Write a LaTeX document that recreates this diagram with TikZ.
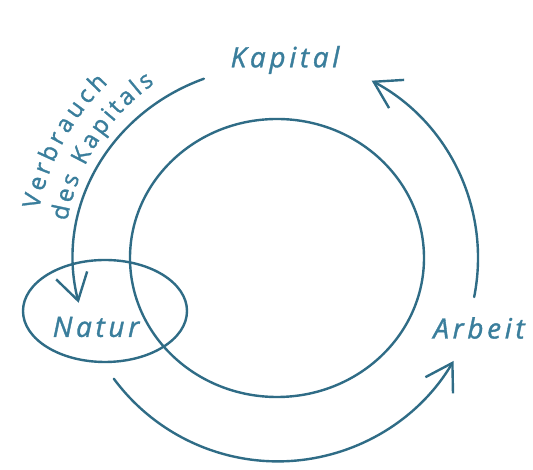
\documentclass[tikz,border=0pt]{standalone}
\usepackage{fontspec}
\setmainfont{Open Sans}
\newfontfamily\hand[LetterSpace=13.0,FakeBold=1.2]{Open Sans}
\newfontfamily\handarc[FakeBold=1.2]{Open Sans}
\usetikzlibrary{arrows.meta,decorations.text,shapes.geometric}
\definecolor{ink}{HTML}{2F6C86}
\definecolor{inktext}{HTML}{3A7E9C}
\tikzset{
  flow/.style={draw=ink, line width=2.4pt, line cap=round,
    -{Straight Barb[length=26pt,width=32pt,line width=2.4pt]}},
  ring/.style={draw=ink, line width=2.4pt},
  label/.style={text=inktext, font=\hand\itshape\fontsize{28}{28}\selectfont, inner sep=0pt},
  arctext/.style={decorate,
    decoration={text along path, text align=fit to path,
      text={|\handarc\fontsize{24}{24}\selectfont\color{inktext}|#1}}}
}
\begin{document}
\begin{tikzpicture}[x=1pt,y=1pt]
\useasboundingbox[fill=white] (0,0) rectangle (533,470);
\coordinate (C) at (277,212);
% big circle
\draw[ring] (C) ellipse[x radius=147pt, y radius=139pt];
% Natur ellipse
\node[ring, ellipse, minimum width=164pt, minimum height=102pt, inner sep=0pt] (naturring) at (105,159) {};
% labels
\node[label] (kapital) at (285,410) {Kapital};
\node[label] (natur) at (96,143) {Natur};
\node[label] (arbeit) at (479,142) {Arbeit};
% arrows
\coordinate (s1) at ([shift={(111:204pt and 192pt)}]C);
\draw[flow] (s1) arc[start angle=111, end angle=193.5, x radius=204pt, y radius=192pt];
\coordinate (s2) at ([shift={(-11.2:201pt)}]C);
\draw[flow] (s2) arc[start angle=-11.2, end angle=61.9, radius=201pt];
\coordinate (s3) at ([shift={(216.5:203pt)}]C);
\draw[flow] (s3) arc[start angle=216.5, end angle=329.5, radius=204pt];
% curved text
\coordinate (t1) at ([shift={(168.5:243pt)}]C);
\path[arctext={Verbrauch}]
  (t1) arc[start angle=168.5, end angle=134, radius=243pt];
\coordinate (t2) at ([shift={(170:213pt)}]C);
\path[arctext={des Kapitals}]
  (t2) arc[start angle=170, end angle=125, radius=213pt];
\end{tikzpicture}
\end{document}
